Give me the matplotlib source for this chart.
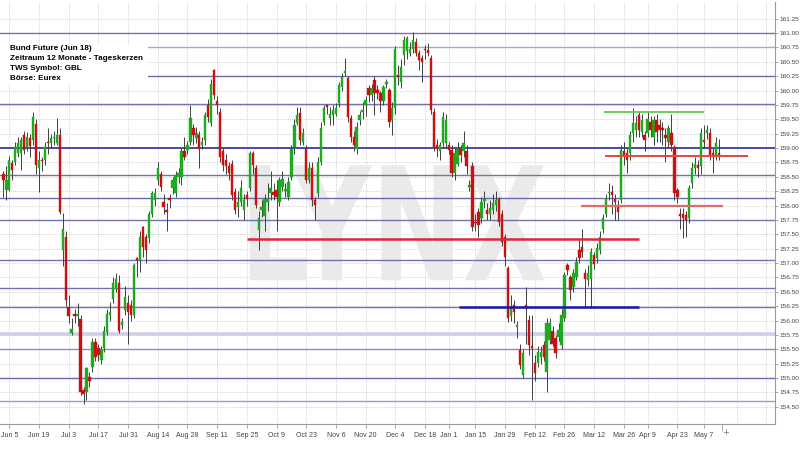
import matplotlib
matplotlib.use("Agg")
import matplotlib.pyplot as plt
import numpy as np
from matplotlib.textpath import TextPath
from matplotlib.patches import PathPatch, Rectangle
from matplotlib.font_manager import FontProperties
from matplotlib.transforms import Affine2D

# ---------------- data (trading-day index, first candle = -2) ----------------
first_idx = -2
opens = [
    158.55, 158.27, 158.27, 158.74, 158.76, 158.91, 158.91, 159.23, 159.02, 159.17,
    159.14, 159.42, 158.65, 158.80, 158.79, 159.10, 159.09, 159.17, 159.09, 159.23,
    157.23, 157.46, 156.24, 155.78, 156.12, 156.07, 156.03, 154.79, 154.76, 155.01,
    155.20, 155.63, 155.52, 155.31, 155.52, 155.80, 156.10, 156.38, 156.55, 156.65,
    155.93, 156.18, 156.30, 156.27, 156.10, 157.07, 157.05, 157.63, 157.46, 157.43,
    157.86, 158.10, 158.44, 158.54, 158.07, 157.92, 158.12, 158.30, 158.21, 158.50,
    158.50, 158.95,
    158.97, 159.11, 159.34, 159.17, 159.23, 159.05, 159.14, 159.75, 159.43, 160.36,
    159.81, 159.63, 158.94, 158.79, 158.68, 158.73, 158.24, 157.98, 158.07, 157.92,
    158.18, 158.30, 158.91, 158.65, 157.57, 157.92, 157.81, 158.07, 158.21, 158.24,
    158.27, 158.07, 158.33, 158.25, 158.15, 158.50, 159.02, 159.43, 159.61, 159.11,
    158.99, 158.44, 158.65, 158.10, 158.21, 158.76, 159.46, 159.73, 159.52, 159.57,
    159.60, 159.78, 160.07, 160.31, 160.21, 159.52, 159.20, 158.99, 159.49, 159.63,
    159.75, 160.04, 159.92, 160.18, 160.01, 159.95, 159.81, 160.11, 160.01, 159.49,
    159.69, 160.27, 160.15, 160.62, 160.68, 160.65, 160.73, 160.85, 160.65, 160.56,
    160.73, 160.70, 160.56, 159.63, 159.05, 158.94, 159.08, 159.08, 159.05, 158.97,
    158.56, 158.73, 158.99, 158.94, 158.94, 158.33, 158.68, 157.72, 157.89, 157.78,
    158.08, 157.92, 157.86, 157.92, 158.01, 158.12, 157.86, 157.46, 156.91, 156.07,
    156.27, 155.89, 155.49, 155.05, 156.27, 156.01, 155.55, 155.26, 155.26, 155.37,
    155.57,
    155.11, 155.66, 155.81, 155.69, 155.72, 155.57, 156.04, 156.97, 156.76, 156.59,
    156.76, 157.23, 157.28, 156.82, 156.70, 156.73, 157.14, 157.08, 157.23, 157.60,
    157.86, 158.21, 158.24, 158.12, 158.01, 158.10, 158.94, 158.91, 158.91, 159.26,
    159.31, 159.57, 159.28, 159.23, 159.26, 159.46, 159.20, 159.49, 159.40, 159.34,
    159.23, 159.11, 159.26, 159.02, 158.27, 157.86, 157.86, 157.83, 157.78, 158.39,
    158.65, 158.70, 158.68, 159.14, 159.26, 159.26, 158.91, 158.85, 158.92,
]
highs = [
    158.60, 158.68, 158.86, 158.80, 159.10, 159.20, 159.20, 159.30, 159.28, 159.25,
    159.62, 159.50, 158.95, 158.85, 159.10, 159.35, 159.25, 159.30, 159.52, 159.35,
    157.87, 157.55, 156.45, 156.05, 156.20, 156.30, 156.10, 154.85, 155.20, 155.10,
    155.70, 155.70, 155.60, 155.55, 155.90, 156.20, 156.33, 156.75, 156.82, 156.80,
    156.05, 156.60, 156.45, 156.35, 157.00, 157.10, 157.55, 157.65, 157.50, 157.90,
    158.25, 158.30, 158.75, 158.60, 158.20, 158.05, 158.20, 158.50, 158.60, 158.65,
    159.00, 159.20,
    159.12, 159.75, 159.42, 159.36, 159.30, 159.20, 159.62, 159.85, 160.20, 160.38,
    159.90, 159.70, 159.00, 158.90, 158.75, 158.80, 158.30, 158.25, 158.45, 158.20,
    158.25, 158.95, 158.95, 158.70, 157.90, 158.10, 158.20, 158.40, 158.60, 158.40,
    158.45, 158.50, 158.60, 158.40, 158.50, 159.05, 159.50, 159.72, 159.72, 159.35,
    159.05, 158.75, 158.75, 158.15, 158.85, 159.45, 159.75, 159.76, 159.72, 159.75,
    159.78, 160.15, 160.30, 160.56, 160.25, 159.58, 159.30, 159.45, 159.65, 159.80,
    159.90, 160.10, 160.12, 160.25, 160.10, 160.00, 160.10, 160.20, 160.05, 159.80,
    160.78, 160.45, 160.55, 160.95, 160.95, 160.85, 161.02, 160.92, 160.70, 160.62,
    160.80, 160.82, 160.62, 159.70, 159.15, 159.10, 159.62, 159.60, 159.10, 159.05,
    159.00, 159.10, 159.05, 159.30, 159.05, 158.45, 158.75, 157.85, 157.95, 158.15,
    158.25, 158.05, 158.10, 158.20, 158.25, 158.15, 157.92, 157.50, 156.95, 156.45,
    156.35, 156.00, 155.60, 155.50, 156.59, 156.10, 156.10, 155.40, 155.55, 155.55,
    155.65,
    156.05, 156.05, 155.90, 155.75, 155.95, 156.20, 156.85, 157.00, 156.80, 156.90,
    157.10, 157.40, 157.60, 156.90, 156.97, 157.26, 157.20, 157.35, 157.55, 157.85,
    158.20, 158.40, 158.35, 158.20, 158.10, 159.05, 159.10, 159.00, 159.30, 159.69,
    159.55, 159.62, 159.60, 159.30, 159.65, 159.55, 159.55, 159.60, 159.50, 159.45,
    159.35, 159.40, 159.60, 159.05, 158.30, 157.95, 157.95, 157.90, 158.35, 158.75,
    158.85, 158.80, 159.35, 159.40, 159.40, 159.35, 159.00, 159.20, 159.15,
]
lows = [
    158.15, 158.10, 158.25, 158.45, 158.70, 158.85, 158.62, 158.90, 158.95, 158.85,
    159.05, 158.55, 158.24, 158.60, 158.70, 158.90, 159.00, 159.05, 159.05, 157.85,
    156.95, 156.25, 155.95, 155.75, 155.95, 155.90, 154.70, 154.55, 154.62, 154.85,
    155.10, 155.30, 155.30, 155.25, 155.45, 155.75, 156.00, 156.30, 156.50, 155.78,
    155.85, 156.10, 155.60, 156.00, 156.05, 156.75, 156.85, 157.10, 157.00, 157.35,
    157.80, 158.00, 158.35, 158.25, 157.85, 157.55, 157.95, 158.20, 158.15, 158.40,
    158.35, 158.80,
    158.90, 159.05, 159.05, 159.08, 158.65, 158.98, 159.05, 159.45, 159.38, 159.85,
    159.60, 158.75, 158.60, 158.55, 158.45, 158.10, 157.85, 157.80, 158.00, 157.75,
    158.00, 158.25, 158.55, 157.95, 157.23, 157.80, 157.55, 157.90, 158.10, 158.10,
    157.55, 158.00, 158.25, 158.15, 158.10, 158.45, 158.90, 159.40, 159.05, 159.05,
    158.40, 158.40, 158.00, 157.75, 158.15, 158.70, 159.40, 159.60, 159.40, 159.40,
    159.55, 159.72, 160.00, 160.25, 159.45, 159.10, 158.95, 158.90, 159.40, 159.50,
    159.55, 159.80, 159.81, 159.57, 159.85, 159.63, 159.75, 160.05, 159.37, 159.23,
    159.60, 160.10, 160.05, 160.45, 160.55, 160.60, 160.65, 160.60, 160.35, 160.15,
    160.55, 160.60, 159.60, 158.95, 158.85, 158.80, 159.00, 159.00, 158.90, 158.50,
    158.45, 158.68, 158.75, 158.85, 158.55, 158.25, 157.55, 157.55, 157.45, 157.70,
    157.95, 157.75, 157.75, 157.85, 157.90, 157.65, 157.30, 156.95, 155.98, 156.00,
    155.95, 155.70, 155.15, 155.00, 155.60, 155.40, 154.62, 154.95, 155.20, 155.25,
    155.30,
    154.76, 155.60, 155.55, 155.35, 155.65, 155.50, 156.00, 156.80, 156.36, 156.50,
    156.70, 157.00, 157.10, 156.24, 156.60, 156.21, 156.90, 157.00, 157.15, 157.52,
    157.80, 158.10, 157.85, 157.75, 157.75, 158.05, 158.70, 158.56, 158.80, 159.10,
    159.20, 159.20, 159.20, 158.95, 159.20, 159.20, 159.05, 159.10, 159.10, 159.05,
    158.75, 159.00, 158.95, 158.10, 158.05, 157.60, 157.43, 157.45, 157.70, 158.30,
    158.55, 158.50, 158.55, 159.00, 159.15, 158.80, 158.56, 158.80, 158.80,
]
closes = [
    158.45, 158.44, 158.80, 158.62, 159.02, 159.08, 159.14, 158.97, 159.20, 159.03,
    159.54, 158.70, 158.79, 158.77, 159.02, 159.08, 159.18, 159.19, 159.23, 157.89,
    157.60, 156.36, 156.07, 155.86, 156.07, 156.12, 154.76, 154.73, 155.17, 154.94,
    155.63, 155.37, 155.40, 155.49, 155.81, 156.12, 156.14, 156.65, 156.73, 155.81,
    155.98, 156.41, 156.15, 156.10, 156.97, 157.05, 157.46, 157.28, 157.23, 157.86,
    158.21, 158.21, 158.65, 158.33, 157.98, 157.89, 158.10, 158.45, 158.53, 158.56,
    158.94, 158.85,
    159.05, 159.52, 159.23, 159.26, 158.99, 159.11, 159.57, 159.54, 160.12, 159.92,
    159.75, 158.85, 158.70, 158.68, 158.56, 158.18, 157.92, 158.07, 158.30, 158.10,
    158.12, 158.91, 158.70, 158.01, 157.78, 157.98, 158.12, 158.12, 158.30, 158.18,
    158.15, 158.44, 158.47, 158.28, 158.41, 158.99, 159.40, 159.57, 159.14, 159.26,
    158.44, 158.65, 158.10, 158.01, 158.76, 159.34, 159.69, 159.71, 159.60, 159.67,
    159.69, 160.10, 160.24, 160.34, 159.54, 159.20, 159.05, 159.37, 159.57, 159.67,
    159.83, 159.92, 160.04, 159.95, 159.95, 159.81, 160.07, 160.15, 159.46, 159.69,
    160.73, 160.24, 160.41, 160.88, 160.91, 160.73, 160.88, 160.65, 160.53, 160.50,
    160.70, 160.65, 159.66, 159.02, 158.99, 159.05, 159.54, 159.49, 158.97, 158.56,
    158.91, 158.99, 158.88, 159.08, 158.68, 158.36, 157.63, 157.69, 157.66, 158.07,
    158.11, 157.86, 157.95, 158.04, 158.10, 157.72, 157.37, 157.11, 156.04, 156.24,
    156.15, 155.92, 155.23, 155.43, 156.21, 155.57, 155.53, 155.08, 155.46, 155.46,
    155.37,
    155.95, 155.95, 155.60, 155.43, 155.83, 156.10, 156.79, 156.88, 156.53, 156.82,
    157.02, 157.08, 157.20, 156.73, 156.82, 157.20, 156.99, 157.26, 157.46, 157.78,
    158.12, 158.24, 158.18, 158.07, 157.89, 158.97, 158.88, 158.79, 159.23, 159.43,
    159.43, 159.31, 159.49, 159.14, 159.50, 159.31, 159.49, 159.28, 159.31, 159.31,
    159.17, 159.34, 159.05, 158.21, 158.15, 157.81, 157.78, 157.75, 158.30, 158.65,
    158.73, 158.65, 159.26, 159.11, 159.31, 158.88, 158.85, 159.08, 158.88,
]

tick_pos = [0, 10, 20, 30, 40, 50, 60, 70, 80, 90, 100, 110, 120, 130, 140,
            148, 157, 167, 177, 187, 197, 207, 215, 225, 234]
tick_labels = ["Jun 5", "Jun 19", "Jul 3", "Jul 17", "Jul 31", "Aug 14", "Aug 28",
               "Sep 11", "Sep 25", "Oct 9", "Oct 23", "Nov 6", "Nov 20", "Dec 4",
               "Dec 18", "Jan 1", "Jan 15", "Jan 29", "Feb 12", "Feb 26", "Mar 12",
               "Mar 26", "Apr 9", "Apr 23", "May 7"]
future_grid = [245, 255]

# support / resistance levels (thin horizontal lines across chart)
levels = [161.00, 160.75, 160.26, 159.76, 159.00, 158.53, 158.13, 157.74,
          157.05, 156.56, 156.24, 155.77, 155.50, 155.00, 154.60]
level_colors = ["#7272b6", "#a8a8d6", "#6a6ab0", "#7272b6", "#3c3ca8", "#7272b6",
                "#6a6ab0", "#7272b6", "#7272b6", "#7272b6", "#7272b6", "#cfcfe8",
                "#8a8ac4", "#6a6ab0", "#9a9acc"]
level_widths = [1.0, 1.0, 1.0, 1.0, 1.3, 1.0, 1.0, 1.0, 1.0, 1.0, 1.0, 2.6, 1.0, 1.0, 1.0]

# annotation segments: value, start idx, end idx, colour, width
seg_vals = [157.41, 156.23, 158.00, 158.86, 159.62]
seg_start = [80.0, 151.5, 192.6, 200.6, 200.3]
seg_end = [212.1, 212.1, 240.4, 248.8, 234.0]
seg_colors = ["#d8283a", "#1a1aa8", "#e06b6b", "#e04848", "#66cc66"]
seg_widths = [1.8, 1.8, 1.6, 1.4, 1.4]

info_lines = ["Bund Future (Jun 18)", "Zeitraum 12 Monate - Tageskerzen",
              "TWS Symbol: GBL", "Börse: Eurex"]

# ---------------- figure ----------------
fig = plt.figure(figsize=(8, 4.5), dpi=100)
fig.patch.set_facecolor("white")
ax = fig.add_axes([0, 26 / 450, 775 / 800, 422 / 450])
ax.set_xlim(-3.13, 257.9)
ax.set_ylim(154.2, 161.54)

# dotted grid
yt = np.arange(154.5, 161.26, 0.25)
for v in yt:
    ax.axhline(v, color="#c4c4c4", lw=0.6, ls=(0, (1, 1.5)), zorder=1)
for p in tick_pos + future_grid:
    ax.axvline(p, color="#c4c4c4", lw=0.6, ls=(0, (1, 1.5)), zorder=1)

# watermark
fp = FontProperties(family="DejaVu Sans", weight="bold")
tp = TextPath((0, 0), "LYNX", size=100, prop=fp)
ext = tp.get_extents()
x0, x1, y0, y1 = 81.0, 180.4, 156.70, 158.70
tr = Affine2D().translate(-ext.x0, -ext.y0).scale((x1 - x0) / ext.width,
                                                    (y1 - y0) / ext.height).translate(x0, y0)
ax.add_patch(PathPatch(tr.transform_path(tp), facecolor="#eaeaea", edgecolor="none", zorder=1.5))

# levels
for v, c, w in zip(levels, level_colors, level_widths):
    ax.axhline(v, color=c, lw=w, zorder=2)

# candles
o = np.array(opens); h = np.array(highs); l = np.array(lows); c = np.array(closes)
x = np.arange(first_idx, first_idx + len(o))
up = c >= o
ax.vlines(x, l, h, color="#404040", lw=0.7, zorder=3)
bottom = np.minimum(o, c)
height = np.maximum(np.abs(c - o), 0.03)
ax.bar(x[up], height[up], bottom=bottom[up], width=0.8, color="#1eaa1e",
       edgecolor="#1eaa1e", linewidth=0.3, zorder=4)
ax.bar(x[~up], height[~up], bottom=bottom[~up], width=0.8, color="#cc1010",
       edgecolor="#cc1010", linewidth=0.3, zorder=4)

# annotation segments
for v, s, e, col, w in zip(seg_vals, seg_start, seg_end, seg_colors, seg_widths):
    ax.hlines(v, s, e, color=col, lw=w, zorder=5)

# info box
ax.add_patch(Rectangle((0, 1 - 82 / 422), 148 / 775, 39 / 422, transform=ax.transAxes,
                       facecolor="white", edgecolor="none", zorder=6))
for i, t in enumerate(info_lines):
    fig.text(10 / 800, 1 - (49 + 9.7 * i) / 450, t, fontsize=5.9, fontweight="bold",
             family=["Liberation Sans", "DejaVu Sans"], va="center", ha="left", zorder=7)

# axes styling
for s in ["left", "top"]:
    ax.spines[s].set_visible(False)
for s in ["right", "bottom"]:
    ax.spines[s].set_color("#9a9a9a")
    ax.spines[s].set_linewidth(0.8)
ax.yaxis.tick_right()
ax.set_yticks(yt)
ax.set_yticklabels([f"{v:.2f}" for v in yt], fontsize=4.6, color="#444444",
                   family=["Liberation Sans", "DejaVu Sans"])
ax.tick_params(axis="y", length=2.5, width=0.6, color="#9a9a9a", pad=1)
ax.set_xticks(tick_pos)
ax.set_xticklabels(tick_labels, fontsize=5, color="#444444",
                   family=["Liberation Sans", "DejaVu Sans"])
ax.tick_params(axis="x", length=3, width=0.6, color="#9a9a9a", pad=3)
ax.text(241.3, 154.05, "+", fontsize=6, color="#777777", ha="center", va="center",
        clip_on=False)
ax.vlines(240.2, 154.2 - 0.12, 154.2, color="#9a9a9a", lw=0.6, clip_on=False)

fig.savefig("out.png", dpi=100)
